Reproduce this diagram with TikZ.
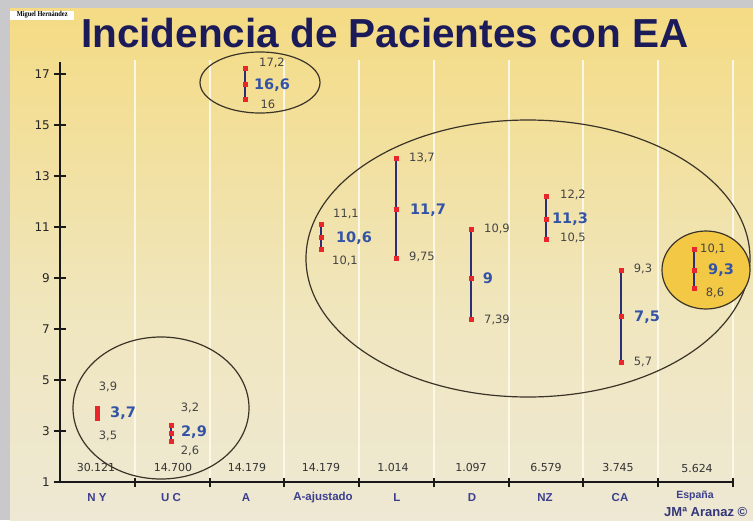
\documentclass[tikz,border=0pt]{standalone}
\usepackage{fontspec}
\usetikzlibrary{shapes.geometric}
\setmainfont{Liberation Sans}
\newfontfamily\dvfont{DejaVu Sans}
\newfontfamily\serfont{Liberation Serif}
\definecolor{bgA}{HTML}{F6D35E}
\definecolor{bgB}{HTML}{F4DB84}
\definecolor{bgC}{HTML}{F0E6BE}
\definecolor{bgD}{HTML}{ECEAE3}
\definecolor{framegray}{HTML}{C9C9CB}
\definecolor{titlecol}{HTML}{1C1B5A}
\definecolor{numgray}{HTML}{444444}
\definecolor{meanblue}{HTML}{3353A6}
\definecolor{catblue}{HTML}{3C3F8E}
\definecolor{barnavy}{HTML}{2C2F78}
\definecolor{dotred}{HTML}{E8262B}
\definecolor{ellcol}{HTML}{3A3428}
\definecolor{gridcol}{HTML}{FCF7E6}
\definecolor{espfill}{HTML}{F3C845}
\pgfdeclareverticalshading{bgshade}{100bp}{color(0bp)=(bgD); color(12bp)=(bgD); color(45bp)=(bgC); color(75bp)=(bgB); color(100bp)=(bgA)}
\newcommand{\mkbar}[5]{%
  \coordinate (#1t) at (#2,#3);
  \coordinate (#1m) at (#2,#4);
  \coordinate (#1b) at (#2,#5);
  \draw[errline] (#1t) -- (#1b);
  \node[rdot] (#1dt) at (#1t) {};
  \node[rdot] (#1dm) at (#1m) {};
  \node[rdot] (#1db) at (#1b) {};
}
\begin{document}
\begin{tikzpicture}[x=1pt,y=-1pt,
  title/.style={font=\bfseries\fontsize{40.5}{42}\selectfont, text=titlecol, inner sep=0},
  val/.style={font=\dvfont\fontsize{11.5}{12}\selectfont, text=numgray, inner sep=0},
  mean/.style={font=\dvfont\bfseries\fontsize{14.5}{15}\selectfont, text=meanblue, inner sep=0},
  cnt/.style={font=\dvfont\fontsize{11}{12}\selectfont, text=black!80, inner sep=0},
  cat/.style={font=\bfseries\fontsize{11.5}{12}\selectfont, text=catblue, inner sep=0},
  ylab/.style={font=\dvfont\fontsize{12}{13}\selectfont, text=black!85, inner sep=0},
  errline/.style={draw=barnavy, line width=2.5pt},
  rdot/.style={fill=dotred, rectangle, minimum width=5pt, minimum height=5pt, inner sep=0},
  ring/.style={draw=ellcol, line width=1.2pt, ellipse, inner sep=0},
  axisline/.style={draw=black!90, line width=2.2pt},
  gridline/.style={draw=gridcol, line width=1.5pt}
]
\useasboundingbox (0,0) rectangle (753,520);
% background
\fill[framegray] (0,0) rectangle (753,520);
\shade[shading=bgshade] (10,8) rectangle (753,520);
% grid lines
\foreach \gx in {135,210,284,359,434,509,583,658,733}
  \draw[gridline] (\gx,60) -- (\gx,482);
% small label
\node[fill=white, minimum width=64pt, minimum height=9pt, inner sep=0, anchor=west,
  font=\serfont\bfseries\fontsize{7.5}{8}\selectfont] (mh) at (10,15) {\scalebox{0.85}[1]{Miguel Hernández}};
% title
\node[title, anchor=base] (title) at (385,47) {Incidencia de Pacientes con EA};
% ellipses
\node[ring, minimum width=176pt, minimum height=142pt] (ellNYUC) at (161,408) {};
\node[ring, minimum width=120pt, minimum height=61pt] (ellA) at (260,82.5) {};
\node[ring, minimum width=444pt, minimum height=277pt] (ellBig) at (528,258.5) {};
\node[ring, fill=espfill, minimum width=88pt, minimum height=78pt] (ellEsp) at (706,270) {};
% axes
\coordinate (origin) at (60,482);
\coordinate (ytop) at (60,62);
\coordinate (xend) at (733,482);
\draw[axisline] (ytop) -- (origin) -- (xend);
\foreach \v in {1,3,...,17} {
  \pgfmathsetmacro\yy{482-(\v-1)*25.5}
  \draw[black!90, line width=2pt] (54,\yy) -- (66,\yy);
  \node[ylab, anchor=east] (yl\v) at (50,\yy) {\v};
}
\foreach \gx in {135,210,284,359,434,509,583,658,733}
  \draw[black!90, line width=2.5pt] (\gx,477.5) -- (\gx,486.5);
% error bars
\mkbar{NY}{97}{408.05}{413.15}{418.25}
\mkbar{UC}{171}{425.9}{433.55}{441.2}
\mkbar{A}{245}{68.9}{84.2}{99.5}
\mkbar{AA}{321}{224.45}{237.2}{249.95}
\mkbar{L}{396}{158.15}{209.15}{258.875}
\mkbar{D}{471}{229.55}{278}{319.05}
\mkbar{NZ}{546}{196.4}{219.35}{239.75}
\mkbar{CA}{621}{270.35}{316.25}{362.15}
\mkbar{ES}{694}{249.95}{270.35}{288.2}
% value labels
\node[val] (vNYt) at (108,387) {3,9};
\node[mean] (vNYm) at (123,413) {3,7};
\node[val] (vNYb) at (108,436) {3,5};
\node[val] (vUCt) at (190,408) {3,2};
\node[mean] (vUCm) at (194,432) {2,9};
\node[val] (vUCb) at (190,451) {2,6};
\node[val] (vAt) at (272,63) {17,2};
\node[mean] (vAm) at (272,85) {16,6};
\node[val] (vAb) at (268,104) {16};
\node[val] (vAAt) at (346,214) {11,1};
\node[mean] (vAAm) at (354,238) {10,6};
\node[val] (vAAb) at (345,261) {10,1};
\node[val] (vLt) at (422,158) {13,7};
\node[mean] (vLm) at (428,210) {11,7};
\node[val] (vLb) at (422,257) {9,75};
\node[val] (vDt) at (497,229) {10,9};
\node[mean] (vDm) at (488,278) {9};
\node[val] (vDb) at (497,320) {7,39};
\node[val] (vNZt) at (573,195) {12,2};
\node[mean] (vNZm) at (570,219) {11,3};
\node[val] (vNZb) at (573,238) {10,5};
\node[val] (vCAt) at (643,269) {9,3};
\node[mean] (vCAm) at (647,317) {7,5};
\node[val] (vCAb) at (643,362) {5,7};
\node[val] (vESt) at (713,249) {10,1};
\node[mean] (vESm) at (721,270) {9,3};
\node[val] (vESb) at (715,293) {8,6};
% counts
\node[cnt] (nNY) at (96,467) {30.121};
\node[cnt] (nUC) at (173,467) {14.700};
\node[cnt] (nA) at (247,467) {14.179};
\node[cnt] (nAA) at (321,467) {14.179};
\node[cnt] (nL) at (393,467) {1.014};
\node[cnt] (nD) at (471,467) {1.097};
\node[cnt] (nNZ) at (546,467) {6.579};
\node[cnt] (nCA) at (618,467) {3.745};
\node[cnt] (nES) at (697,468) {5.624};
% categories
\node[cat] (cNY) at (97,498) {N Y};
\node[cat] (cUC) at (171,498) {U C};
\node[cat] (cA) at (246,498) {A};
\node[cat] (cAA) at (323,498) {A-ajustado};
\node[cat] (cL) at (397,498) {L};
\node[cat] (cD) at (472,498) {D};
\node[cat] (cNZ) at (545,498) {NZ};
\node[cat] (cCA) at (620,498) {CA};
\node[cat, font=\bfseries\fontsize{10.5}{11}\selectfont] (cES) at (695,496) {España};
\node[font=\bfseries\fontsize{13}{14}\selectfont, text=catblue!85!black, inner sep=0, anchor=west] (credit) at (664,512) {JMª Aranaz ©};
\end{tikzpicture}
\end{document}
